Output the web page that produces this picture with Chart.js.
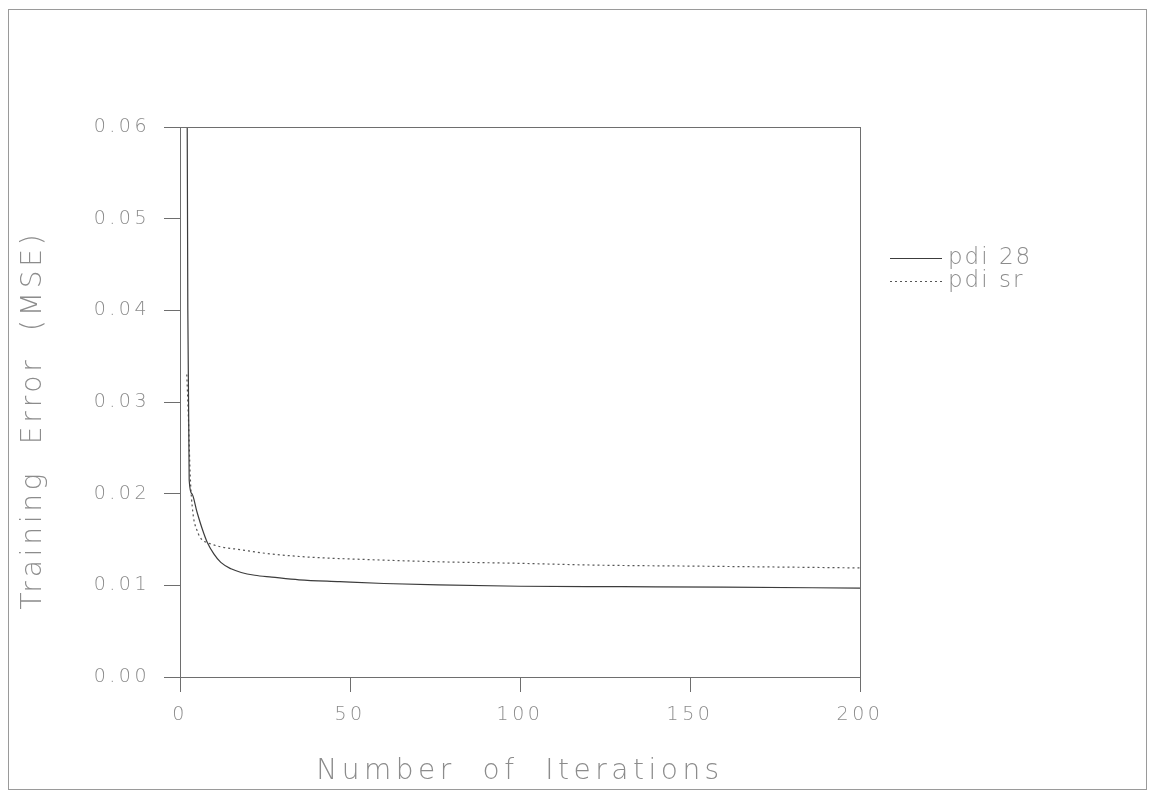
<!DOCTYPE html>
<html>
<head>
<meta charset="utf-8">
<script src="https://cdn.jsdelivr.net/npm/chart.js@4/dist/chart.umd.min.js"></script>
<style>
  html, body { margin: 0; padding: 0; background: #fff; }
  #wrap { width: 1149px; height: 795px; }
</style>
</head>
<body>
<div id="wrap"><canvas id="chart" width="1149" height="795"></canvas></div>
<script>
// values
var seriesLabels = ["pdi 28", "pdi sr"];

var iters28 = [2, 2.3, 2.7, 3.5, 5, 6.5, 8, 10, 12, 15, 18, 22, 27, 35, 47, 60, 76, 100, 130, 160, 200];
var error28 = [0.075, 0.04, 0.0215, 0.0200, 0.0180, 0.0162, 0.0147, 0.0134, 0.0125, 0.0118, 0.0114, 0.0111, 0.0109, 0.0106, 0.0104, 0.0102, 0.01005, 0.0099, 0.00985, 0.0098, 0.0097];

var itersSr = [2, 2.5, 3, 3.8, 5, 6.4, 8.2, 12, 17.6, 25, 37, 56, 76, 100, 123, 150, 175, 200];
var errorSr = [0.033, 0.028, 0.022, 0.0179, 0.0160, 0.0150, 0.01464, 0.0142, 0.0139, 0.0135, 0.0131, 0.0128, 0.01257, 0.0124, 0.0122, 0.0121, 0.0120, 0.0119];

var xTicks = [0, 50, 100, 150, 200];
var yTicks = [0, 0.01, 0.02, 0.03, 0.04, 0.05, 0.06];

function toPoints(xs, ys) {
  return xs.map(function(x, i) { return { x: x, y: ys[i] }; });
}

var fontFamily = "'DejaVu Sans', 'Noto Sans', sans-serif";
var textColor = "#8c8c8c";
var axisColor = "#6e6e6e";

// the plotter font is widely spaced, so stretch labels and titles a bit
function spaceOut(scale, labelSpacing, titleSpacing, dx, dy) {
  if (scale._spaced) return;
  scale._spaced = true;
  var ctx = scale.ctx;
  var drawLabels = scale.drawLabels;
  var drawTitle = scale.drawTitle;
  scale.drawLabels = function(area) {
    ctx.save();
    ctx.letterSpacing = labelSpacing;
    drawLabels.call(this, area);
    ctx.restore();
  };
  scale.drawTitle = function() {
    ctx.save();
    ctx.letterSpacing = titleSpacing;
    ctx.translate(dx, dy);
    drawTitle.call(this);
    ctx.restore();
  };
}

var framePlugin = {
  id: "frame",
  beforeDraw: function(chart) {
    var ctx = chart.ctx;
    spaceOut(chart.scales.x, "3.5px", "4.5px", 0, 0);
    spaceOut(chart.scales.y, "3.5px", "3.8px", 0, 18);
    ctx.save();
    ctx.strokeStyle = "#9a9a9a";
    ctx.lineWidth = 1;
    ctx.strokeRect(8.5, 9.5, 1138, 780);
    ctx.restore();
  },
  afterDraw: function(chart) {
    var ctx = chart.ctx;
    var a = chart.chartArea;
    ctx.save();
    ctx.strokeStyle = axisColor;
    ctx.lineWidth = 1;
    ctx.strokeRect(a.left + 0.5, a.top + 0.5, a.right - a.left, a.bottom - a.top);

    // legend at the right of the box
    chart.data.datasets.forEach(function(ds, i) {
      var y = 258 + i * 23;
      ctx.strokeStyle = ds.borderColor;
      ctx.lineWidth = ds.borderWidth;
      ctx.setLineDash(ds.borderDash || []);
      ctx.beginPath();
      ctx.moveTo(890, y + 0.5);
      ctx.lineTo(942, y + 0.5);
      ctx.stroke();
      ctx.setLineDash([]);
      ctx.fillStyle = textColor;
      ctx.font = "200 23px " + fontFamily;
      ctx.letterSpacing = "2px";
      ctx.textBaseline = "middle";
      ctx.textAlign = "left";
      ctx.fillText(ds.label, 948, y);
    });
    ctx.restore();
  }
};

new Chart(document.getElementById("chart"), {
  type: "line",
  data: {
    datasets: [{
      label: seriesLabels[0],
      data: toPoints(iters28, error28),
      borderColor: "#3c3c3c",
      borderWidth: 1.2,
      pointRadius: 0,
      cubicInterpolationMode: "monotone",
      fill: false
    }, {
      label: seriesLabels[1],
      data: toPoints(itersSr, errorSr),
      borderColor: "#555555",
      borderWidth: 1.2,
      borderDash: [2, 3],
      pointRadius: 0,
      cubicInterpolationMode: "monotone",
      fill: false
    }]
  },
  options: {
    responsive: false,
    animation: false,
    events: [],
    layout: { padding: { top: 127, right: 289, left: 0, bottom: 0 } },
    plugins: {
      legend: { display: false },
      tooltip: { enabled: false }
    },
    scales: {
      x: {
        type: "linear",
        min: 0,
        max: 200,
        afterFit: function(s) { s.height = 118; },
        afterBuildTicks: function(s) { s.ticks = xTicks.map(function(v) { return { value: v }; }); },
        grid: { drawOnChartArea: false, tickLength: 15, color: axisColor },
        border: { color: axisColor },
        ticks: {
          color: textColor,
          padding: 12,
          maxRotation: 0,
          font: { family: fontFamily, size: 19, weight: "200" }
        },
        title: {
          display: true,
          text: "Number  of  Iterations",
          color: textColor,
          padding: { top: 0, bottom: 6 },
          font: { family: fontFamily, size: 28, weight: "200" }
        }
      },
      y: {
        min: 0,
        max: 0.06,
        afterFit: function(s) { s.width = 180; },
        afterBuildTicks: function(s) { s.ticks = yTicks.map(function(v) { return { value: v }; }); },
        grid: { drawOnChartArea: false, tickLength: 16, color: axisColor },
        border: { color: axisColor },
        ticks: {
          color: textColor,
          padding: 14,
          callback: function(v) { return v.toFixed(2); },
          font: { family: fontFamily, size: 19, weight: "200" }
        },
        title: {
          display: true,
          text: "Training  Error  (MSE)",
          color: textColor,
          padding: { top: 17, bottom: 0 },
          font: { family: fontFamily, size: 28, weight: "200" }
        }
      }
    }
  },
  plugins: [framePlugin]
});
</script>
</body>
</html>
